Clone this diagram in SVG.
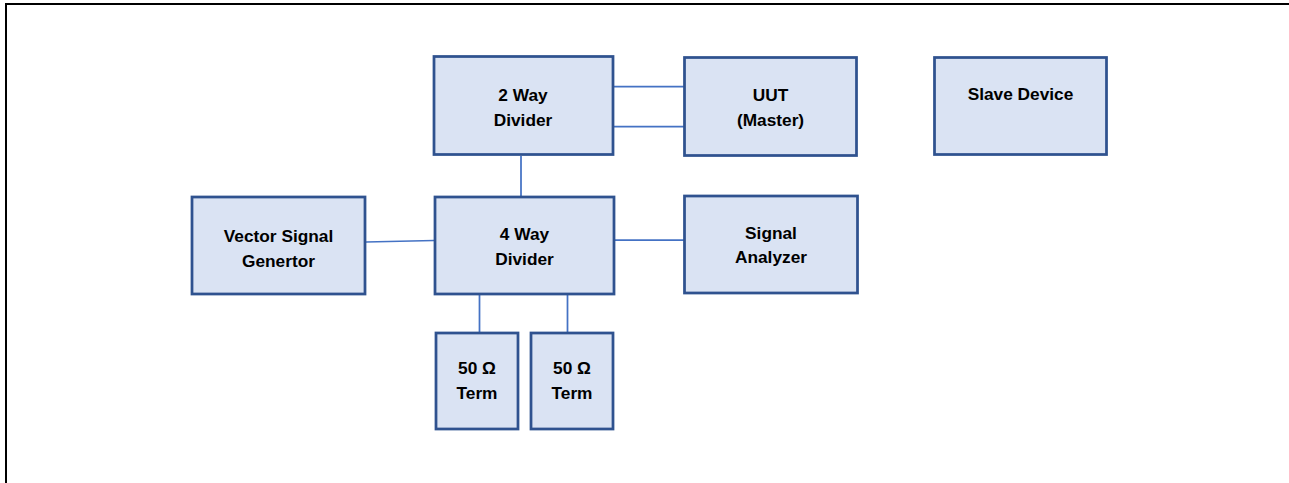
<svg xmlns="http://www.w3.org/2000/svg" width="1289" height="483" viewBox="0 0 1289 483">
<style>
.box{fill:#DAE3F3;stroke:#2F528F;stroke-width:2.75}
.lbl{font-family:"Liberation Sans",Arial,sans-serif;font-weight:bold;font-size:17.3px;fill:#000;text-anchor:middle}
.conn{stroke:#4472C4;stroke-width:1.75;fill:none}
.frame{stroke:#000;stroke-width:2;fill:none}
</style>
<rect width="1289" height="483" fill="#fff"/>
<path class="frame" d="M6,483 V4 H1289"/>
<g id="connectors">
<line class="conn" x1="614" y1="86.5" x2="684" y2="86.5"/>
<line class="conn" x1="614" y1="126.5" x2="684" y2="126.5"/>
<line class="conn" x1="521" y1="156" x2="521" y2="196"/>
<line class="conn" x1="366" y1="242" x2="434" y2="240.5"/>
<line class="conn" x1="615" y1="240" x2="684" y2="240"/>
<line class="conn" x1="479.5" y1="295" x2="479.5" y2="332"/>
<line class="conn" x1="567.5" y1="295" x2="567.5" y2="332"/>
</g>
<g id="two-way-divider">
<rect class="box" x="434" y="56.5" width="179" height="98"/>
<text class="lbl" x="523" y="101">2 Way</text>
<text class="lbl" x="523" y="126">Divider</text>
</g>
<g id="uut-master">
<rect class="box" x="684.5" y="57.5" width="172" height="98"/>
<text class="lbl" x="770.5" y="100.5">UUT</text>
<text class="lbl" x="770.5" y="126">(Master)</text>
</g>
<g id="slave-device">
<rect class="box" x="934.5" y="57.5" width="172" height="97"/>
<text class="lbl" x="1020.5" y="100">Slave Device</text>
</g>
<g id="vector-signal-generator">
<rect class="box" x="192" y="197" width="173" height="97"/>
<text class="lbl" x="278.5" y="242">Vector Signal</text>
<text class="lbl" x="278.5" y="267">Genertor</text>
</g>
<g id="four-way-divider">
<rect class="box" x="435" y="197" width="179" height="97"/>
<text class="lbl" x="524.5" y="240">4 Way</text>
<text class="lbl" x="524.5" y="264.5">Divider</text>
</g>
<g id="signal-analyzer">
<rect class="box" x="684.5" y="196" width="173" height="97"/>
<text class="lbl" x="771" y="238.5">Signal</text>
<text class="lbl" x="771" y="263">Analyzer</text>
</g>
<g id="term-1">
<rect class="box" x="436" y="333" width="82" height="96"/>
<text class="lbl" x="477" y="374">50 Ω</text>
<text class="lbl" x="477" y="398.5">Term</text>
</g>
<g id="term-2">
<rect class="box" x="531" y="333" width="82" height="96"/>
<text class="lbl" x="572" y="374">50 Ω</text>
<text class="lbl" x="572" y="398.5">Term</text>
</g>
</svg>
